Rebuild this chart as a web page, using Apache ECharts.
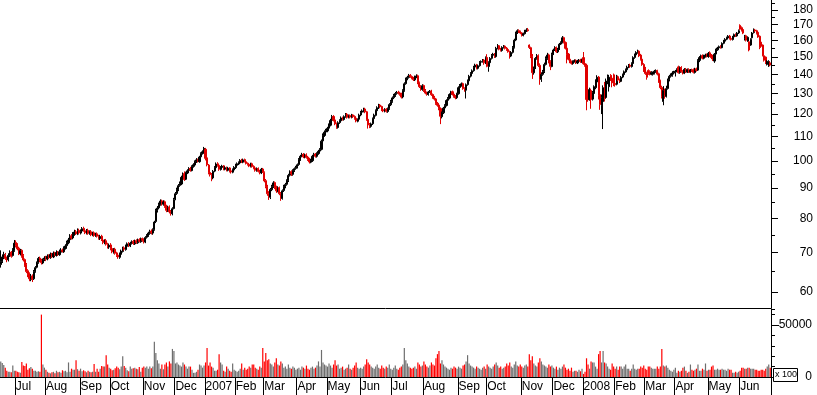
<!DOCTYPE html>
<html><head><meta charset="utf-8">
<script src="https://cdn.jsdelivr.net/npm/echarts@6/dist/echarts.min.js"></script>
<style>html,body{margin:0;padding:0;background:#fff;overflow:hidden}#c{width:817px;height:395px}</style>
</head><body><div id="c"></div>
<script>
// Month labels of the time axis (first entry = partial June 2006, unlabeled)
const monthLabels = ['', 'Jul','Aug','Sep','Oct','Nov','Dec','2007','Feb','Mar','Apr','May','Jun','Jul','Aug','Sep','Oct','Nov','Dec','2008','Feb','Mar','Apr','May','Jun'];
// Trading days in each month shown
const monthDays = [10,20,23,20,22,21,20, 20,19,22,20,22,21,21,23,19,23,21,20, 21,20,20,22,21,21];
// Axis tick values
const priceTicks = [60,70,80,90,100,110,120,130,140,150,160,170,180];
const priceMinorTicks = [65,75,85,95,105,115,125,135,145,155,165,175,185];
const volumeLabelTicks = [0, 50000];

const open = [
66.8,67.6,68.6,69.4,68.5,68.1,69.1,70.1,69.2,70.6,
72.8,72.1,71.2,69.6,70.6,69.2,68.1,66.8,65.2,64.4,63.0,63.9,63.2,65.1,66.1,67.3,68.5,67.9,67.2,68.1,
68.6,68.3,69.1,68.7,69.6,68.8,69.9,69.2,70.1,69.4,70.1,70.7,70.2,71.1,71.9,72.7,73.6,74.7,74.1,75.1,75.9,75.2,76.3,
75.5,76.1,76.9,76.2,75.5,76.3,75.3,75.9,74.9,75.6,74.7,75.3,74.5,73.9,74.6,73.5,72.7,73.3,72.2,71.5,
72.1,71.1,70.1,70.9,69.9,69.3,68.7,69.5,70.3,71.3,70.8,71.7,72.5,71.8,72.5,73.1,72.4,73.3,72.7,73.6,73.0,73.9,
73.5,72.9,74.3,74.7,75.4,76.1,75.5,76.6,79.0,82.4,83.3,84.4,85.6,84.5,85.3,83.9,82.4,83.6,82.1,81.4,83.1,
86.2,88.1,89.4,90.9,91.4,93.9,95.2,93.1,95.4,96.3,97.1,96.3,97.9,98.4,99.7,100.5,99.7,101.6,102.9,103.5,
104.6,101.2,98.4,95.6,94.9,93.6,96.1,97.4,98.9,98.3,96.7,97.5,98.1,96.8,97.5,96.4,97.3,96.2,95.7,96.5,
97.4,98.3,98.8,99.2,100.3,99.5,100.5,99.7,99.1,98.7,97.9,98.9,97.9,97.3,96.3,97.1,96.1,95.4,96.9,
95.6,92.6,90.6,88.1,86.8,89.4,90.6,91.9,90.3,88.9,90.1,88.1,86.4,89.1,90.4,91.3,92.6,94.6,95.9,94.9,96.3,97.1,
97.7,98.6,100.4,101.9,102.6,101.5,102.4,101.5,100.7,99.5,100.1,101.9,102.7,101.8,102.9,103.9,104.6,108.1,110.4,111.9,
112.4,113.6,114.9,117.1,118.9,117.3,115.6,113.9,116.1,116.9,118.3,117.5,118.9,119.9,118.4,119.3,118.5,119.6,118.9,118.1,116.7,117.6,
119.6,120.9,121.4,122.4,121.1,117.6,115.2,114.4,115.6,117.9,119.4,121.6,122.9,124.3,123.6,122.1,121.4,122.3,121.2,122.6,124.4,
126.1,127.9,128.9,130.1,130.6,130.3,129.7,128.3,131.6,135.1,137.6,138.4,139.6,138.9,138.1,137.1,138.7,139.3,135.6,133.6,132.1,
134.1,131.6,130.3,129.5,130.9,131.3,129.5,128.1,127.3,125.1,124.3,122.6,118.8,120.6,122.9,124.1,126.6,127.7,129.6,130.9,129.7,128.6,127.9,
129.9,133.1,134.1,135.1,132.6,131.7,134.6,136.6,139.1,140.6,142.1,144.1,145.3,143.4,144.9,146.9,147.3,148.1,146.4,
149.6,144.4,146.6,149.1,150.9,151.6,150.1,155.1,156.6,154.6,153.7,155.6,156.3,155.1,154.3,153.1,150.4,152.6,155.6,160.1,164.6,166.1,165.3,
164.6,163.1,164.1,165.9,166.6,157.0,155.4,150.1,140.9,143.6,149.1,150.6,145.1,137.4,140.1,141.6,145.6,149.1,151.1,147.1,144.4,
151.6,154.1,155.6,152.9,154.6,157.6,158.6,161.6,158.6,155.1,151.6,148.6,147.1,146.1,147.3,147.9,146.4,147.6,148.1,147.1,
149.5,146.1,145.1,130.5,127.0,131.5,127.2,130.0,133.0,136.0,138.6,129.5,124.0,126.0,133.5,128.0,136.0,133.5,139.5,138.0,139.8,
135.2,134.8,138.8,137.1,136.3,138.6,139.9,141.4,142.6,144.1,145.1,144.4,146.1,149.6,151.1,152.6,153.3,151.0,148.6,145.6,
143.5,141.0,142.2,141.6,140.2,140.1,140.6,141.6,142.2,140.4,136.6,133.1,126.0,131.8,128.5,132.6,137.2,139.1,139.4,140.9,
140.9,141.9,144.2,141.1,143.9,141.7,140.7,142.9,141.3,142.7,141.2,142.5,142.6,141.1,143.1,142.4,147.9,149.4,150.6,149.1,150.3,151.1,
150.1,152.3,151.0,150.0,147.5,151.6,154.1,155.3,156.1,155.4,158.1,159.4,160.6,161.4,162.6,161.1,160.4,162.1,163.6,162.7,164.6,
169.5,168.0,166.8,161.0,162.8,159.5,159.0,157.0,161.5,164.8,166.5,166.0,165.0,162.5,158.8,157.0,150.6,149.8,145.6,144.8,146.5
];
const close = [
67.5,68.8,69.5,68.4,68.0,69.2,70.0,69.0,70.8,72.6,
72.0,71.0,69.8,70.5,69.0,68.0,66.5,65.0,64.2,63.2,63.8,63.0,65.0,66.0,67.2,68.4,67.8,67.3,68.0,68.5,
68.2,69.0,68.6,69.5,68.9,69.8,69.3,70.0,69.5,70.2,70.6,70.3,71.2,71.8,72.8,73.5,74.6,74.0,75.2,75.8,75.3,76.2,75.6,
76.0,76.8,76.3,75.6,76.2,75.4,75.9,75.0,75.5,74.8,75.2,74.6,74.0,74.5,73.6,72.8,73.2,72.3,71.6,72.0,
71.0,70.2,70.8,69.8,69.2,68.8,69.6,70.4,71.2,70.9,71.8,72.4,71.9,72.6,73.0,72.5,73.2,72.8,73.5,73.1,73.8,73.4,
73.0,74.2,74.8,75.5,76.0,75.6,76.5,78.8,82.5,83.2,84.5,85.5,84.6,85.2,83.8,82.5,83.5,82.0,81.5,83.0,86.0,
88.0,89.5,90.8,91.5,93.8,94.8,93.0,95.5,96.2,97.0,96.4,97.8,98.5,99.6,100.4,99.8,101.5,102.8,103.6,105.0,
101.0,98.5,95.5,94.8,93.5,96.0,97.5,98.8,98.2,96.8,97.6,98.0,96.9,97.4,96.5,97.2,96.1,95.8,96.6,97.5,
98.4,98.9,99.3,100.2,99.6,100.4,99.8,99.0,98.6,98.0,98.8,97.8,97.2,96.4,97.0,96.0,95.5,96.8,95.8,
92.5,90.5,88.0,87.0,89.5,90.5,91.8,90.2,89.0,90.0,88.0,86.5,89.0,90.5,91.2,92.5,94.5,95.8,95.0,96.2,97.0,97.6,
98.5,100.5,101.8,102.5,101.6,102.3,101.4,100.6,99.6,100.2,101.8,102.6,101.9,102.8,103.8,104.5,108.0,110.5,111.8,112.5,
113.5,115.0,117.0,118.8,117.2,115.5,114.0,116.0,117.0,118.2,117.6,118.8,119.8,118.5,119.2,118.6,119.5,118.8,118.0,116.8,117.5,119.5,
120.8,121.5,122.3,121.0,117.5,115.0,114.5,115.5,117.8,119.5,121.5,123.0,124.2,123.5,122.0,121.5,122.2,121.3,122.5,124.5,126.0,
127.8,129.0,130.0,130.5,130.2,129.6,128.2,131.5,135.0,137.5,138.5,139.5,138.8,138.0,137.2,138.6,139.2,135.5,133.5,132.2,134.0,
131.5,130.2,129.6,130.8,131.2,129.4,128.0,127.2,125.0,124.2,122.5,119.0,120.5,122.8,124.0,126.5,127.6,129.5,130.8,129.6,128.5,127.8,129.8,
133.0,134.2,135.0,132.5,131.8,134.5,136.5,139.0,140.5,142.0,144.0,145.2,143.5,144.8,146.8,147.2,148.0,146.5,149.5,
144.5,146.5,149.0,150.8,151.5,150.0,155.0,156.5,154.5,153.8,155.5,156.2,155.0,154.2,153.0,150.5,152.5,155.5,160.0,164.5,166.0,165.2,164.5,
163.0,164.0,165.8,166.5,166.0,155.5,150.0,141.0,143.5,149.0,150.5,145.0,137.5,140.0,141.5,145.5,149.0,151.0,147.0,144.5,151.5,
154.0,155.5,153.0,154.5,157.5,158.5,161.5,158.5,155.0,151.5,148.5,147.0,146.2,147.2,147.8,146.5,147.5,148.0,147.2,148.2,
146.0,145.0,127.0,126.8,132.0,127.0,130.5,133.5,136.5,138.5,129.0,124.5,128.0,133.0,127.5,136.5,139.0,138.5,137.0,135.5,135.0,
134.5,139.0,137.0,136.2,138.5,139.8,141.5,142.5,144.0,145.0,144.5,146.0,149.5,151.0,152.5,153.2,150.5,148.5,145.5,143.0,
140.5,138.5,140.5,140.0,141.0,140.8,141.8,142.0,140.2,136.5,133.0,128.5,131.5,129.0,132.5,137.0,139.0,139.5,140.8,141.0,
141.8,142.6,141.0,143.8,141.6,140.8,142.8,141.4,142.6,141.3,142.4,142.0,141.2,143.0,142.2,147.8,149.5,150.5,149.2,150.4,151.0,150.2,
152.0,150.5,149.5,148.5,151.5,154.0,155.2,156.0,155.5,158.0,159.5,160.5,161.5,162.5,161.0,160.5,162.0,163.5,162.8,164.5,166.0,
167.0,166.2,164.5,162.5,160.0,161.8,154.0,160.5,164.5,166.8,165.8,164.2,162.0,155.5,156.2,151.0,148.0,146.5,147.4,147.2,145.2
];
const high = [
70.6,69.5,70.2,69.9,68.9,69.8,70.6,70.4,71.2,73.5,
73.4,72.6,71.6,71.0,70.9,69.6,68.4,67.2,65.6,64.8,64.4,64.3,65.4,66.4,67.6,68.8,68.9,68.3,68.4,69.0,
69.1,69.5,69.5,70.0,69.9,70.3,70.2,70.6,70.4,70.8,71.2,71.1,71.7,72.3,73.3,74.1,75.2,75.2,75.8,76.5,76.4,76.9,76.8,
76.6,77.3,77.4,76.7,76.7,76.8,76.3,76.4,75.9,76.0,75.6,75.7,75.0,75.0,75.0,73.9,73.7,73.8,72.7,72.5,
72.6,71.5,71.2,71.3,70.2,69.7,70.0,70.8,71.6,71.7,72.2,72.8,72.9,73.0,73.4,73.5,73.6,73.7,73.9,74.0,74.2,74.2,
74.0,74.6,75.2,75.9,76.5,76.6,76.9,79.2,83.0,83.9,85.0,86.1,86.0,85.8,85.7,84.3,84.0,84.1,82.6,83.5,86.6,
88.6,90.1,91.4,92.3,94.4,95.6,96.0,95.9,96.8,97.6,97.7,98.3,99.1,100.2,101.1,100.9,102.0,103.4,104.2,105.6,
105.2,101.8,98.8,96.2,95.4,96.5,98.0,99.4,99.5,98.7,98.0,98.5,98.4,97.9,97.8,97.7,97.6,96.6,97.1,98.0,
98.9,99.4,99.8,100.7,100.8,100.9,100.9,100.1,99.4,99.0,99.3,99.3,98.3,97.6,97.5,97.5,96.6,97.3,97.3,
96.0,93.2,91.1,88.9,90.0,91.1,92.4,92.3,90.8,90.6,90.5,88.6,89.5,91.1,91.8,93.1,95.1,96.4,96.4,96.8,97.5,98.1,
99.0,101.1,102.4,103.2,103.1,102.9,103.0,102.0,101.2,100.8,102.4,103.2,103.1,103.4,104.4,105.1,108.7,111.3,112.6,113.3,
114.2,115.7,117.8,119.6,119.5,117.8,116.1,116.7,117.6,118.9,118.8,119.4,120.5,120.5,119.8,119.8,120.1,119.9,119.4,118.6,118.0,120.2,
121.5,122.2,123.0,123.0,121.5,118.0,115.9,116.1,118.4,120.2,122.2,123.7,124.9,124.8,124.0,122.6,122.8,122.8,123.1,125.2,126.8,
128.5,129.8,130.8,131.3,131.4,130.9,130.4,132.2,135.8,138.3,139.3,140.3,140.2,139.5,138.7,139.4,140.1,139.9,136.2,134.3,134.8,
134.6,132.3,131.0,131.3,131.8,131.9,130.0,128.8,127.8,125.8,125.0,123.2,121.2,123.4,124.7,127.1,128.2,130.1,131.4,131.5,130.3,129.2,130.4,
133.7,134.9,135.7,135.6,133.2,135.2,137.3,139.8,141.3,142.8,144.8,146.0,145.9,145.5,147.5,147.9,148.7,148.7,150.2,
151.5,147.4,149.8,151.6,152.3,152.2,155.9,157.6,157.0,155.3,156.3,157.0,156.8,155.8,155.0,153.6,153.3,156.4,160.9,165.4,166.9,166.9,166.1,
165.1,164.8,166.6,167.6,167.8,157.4,156.0,151.6,144.4,149.8,151.6,151.4,146.2,141.2,142.5,146.6,150.2,152.3,151.8,148.0,152.4,
154.8,156.3,156.1,155.3,158.3,159.3,162.6,162.2,159.2,155.7,152.2,149.3,147.8,147.9,148.5,148.5,148.2,148.7,148.8,148.9,
152.8,146.8,146.0,135.0,133.0,132.5,131.3,134.2,137.4,139.6,139.2,130.2,129.5,134.2,136.0,137.8,140.0,139.8,140.2,139.5,140.5,
136.8,139.8,139.4,137.8,139.2,140.5,142.2,143.3,144.9,145.8,146.0,146.8,150.3,151.9,153.3,154.2,153.8,151.7,149.2,146.3,
144.2,141.5,142.8,142.3,141.8,141.6,142.5,142.8,142.6,141.0,137.2,134.0,133.8,132.5,134.0,137.8,139.8,140.6,141.8,142.0,
142.5,143.4,144.9,144.5,144.6,142.4,143.5,143.6,143.3,143.4,143.0,143.2,143.3,143.7,143.8,148.6,150.4,151.3,151.4,151.2,151.8,151.9,
152.8,153.2,151.6,150.8,152.2,154.8,155.9,156.7,156.9,158.7,160.2,161.3,162.2,163.2,163.3,161.8,162.7,164.2,164.3,165.2,166.8,
170.2,168.8,167.3,163.3,163.4,162.4,159.4,161.2,165.2,167.5,167.2,166.6,165.4,163.0,159.3,157.4,151.0,150.2,148.0,148.0,147.4
];
const low = [
66.0,67.2,68.2,68.0,67.4,67.6,68.8,68.6,68.9,70.2,
71.4,70.6,69.3,69.2,68.6,67.6,66.2,64.6,63.6,62.6,62.6,62.4,62.9,64.7,65.8,67.0,67.4,66.8,66.9,67.7,
67.7,67.9,68.2,68.3,68.5,68.5,69.0,68.9,69.1,69.1,69.8,70.0,69.9,70.8,71.5,72.3,73.2,73.6,73.7,74.7,75.0,74.9,75.2,
75.1,75.7,75.9,75.2,75.1,75.0,75.0,74.6,74.6,74.4,74.4,74.2,73.6,73.5,73.2,72.3,72.3,71.9,71.1,71.0,
70.6,69.8,69.7,69.4,68.8,68.3,68.3,69.2,70.0,70.5,70.5,71.3,71.5,71.5,72.2,72.1,72.1,72.4,72.4,72.8,72.7,73.0,
72.5,72.6,73.9,74.4,75.0,75.1,75.0,76.2,78.5,81.8,82.8,84.0,84.0,84.0,83.3,81.9,82.0,81.5,80.8,80.9,82.8,
85.8,87.6,88.9,90.4,91.0,93.3,92.5,92.8,95.0,95.8,95.9,96.0,97.4,98.0,99.2,99.4,99.3,101.2,102.5,103.1,
100.2,97.9,94.9,94.1,92.4,93.1,95.7,97.0,97.8,96.2,96.3,97.1,96.4,96.4,96.0,96.0,95.6,95.2,95.3,96.1,
96.9,97.9,98.4,98.8,99.2,99.1,99.4,98.6,98.2,97.6,97.5,97.4,96.8,95.9,95.9,95.6,94.9,95.0,95.4,
92.0,89.9,87.3,85.9,86.2,88.9,90.0,89.6,88.3,88.5,87.5,85.6,86.0,88.6,89.9,90.8,92.1,94.1,94.3,94.4,95.8,96.6,
97.1,98.1,100.0,101.4,101.1,101.0,100.9,100.0,99.0,99.1,99.6,101.4,101.3,101.3,102.4,103.4,104.2,107.6,109.8,111.3,
111.8,113.0,114.4,116.6,116.6,114.9,113.3,113.4,115.5,116.4,117.0,117.0,118.3,117.9,118.0,118.0,118.0,118.2,117.4,116.2,116.2,117.1,
119.0,120.3,120.8,120.4,116.9,113.4,113.6,113.8,115.0,117.3,118.9,121.0,122.4,122.9,121.4,120.9,120.8,120.7,120.6,122.0,123.8,
125.4,127.2,128.3,129.4,129.5,128.9,127.5,127.6,130.9,134.5,136.9,137.8,138.2,137.4,136.5,136.5,138.0,134.8,132.8,131.4,131.4,
130.8,129.6,128.9,128.9,130.3,128.8,127.4,126.5,124.4,123.5,121.8,115.4,118.0,120.0,122.3,123.6,126.0,127.1,129.0,129.0,127.9,127.1,127.3,
129.4,132.5,133.5,131.9,130.9,127.5,134.0,136.0,138.4,139.9,141.5,143.4,142.8,142.8,144.3,146.2,146.6,145.4,145.8,
144.0,141.5,145.9,148.4,150.2,149.3,149.5,154.4,153.8,153.1,153.0,154.9,154.3,153.5,152.4,148.9,149.8,151.9,154.9,159.4,163.9,164.5,163.8,
162.3,162.4,163.5,165.2,165.4,154.6,149.2,137.6,139.9,143.0,148.3,144.1,134.5,136.0,139.3,140.8,145.0,148.2,146.2,142.4,144.0,
151.0,153.4,152.3,152.2,154.0,157.0,158.0,158.0,154.3,146.2,147.9,146.3,145.5,145.4,146.6,145.8,145.8,147.0,146.5,146.5,
145.4,144.3,121.8,125.9,126.4,122.5,126.5,129.4,132.2,135.0,127.0,122.0,120.0,113.2,126.0,127.5,134.8,131.0,136.5,133.2,133.8,
133.5,134.2,136.4,135.4,135.9,138.0,139.2,140.9,142.0,143.5,143.7,143.8,145.6,148.8,150.3,151.8,149.8,147.8,144.8,141.4,
139.8,137.2,139.8,139.5,139.6,139.4,140.0,140.9,139.5,135.5,132.2,127.5,124.2,127.4,128.0,132.0,136.3,138.3,138.8,140.0,
138.9,141.2,140.5,140.4,141.0,140.0,140.2,140.8,140.8,140.8,140.7,141.4,140.6,140.5,141.6,142.0,146.9,148.6,148.5,148.5,149.5,149.6,
149.4,150.0,148.6,147.6,146.5,151.0,153.5,154.7,154.8,155.0,157.5,158.8,160.0,160.8,160.4,159.8,159.8,161.4,162.0,162.2,163.9,
166.4,165.5,163.8,159.8,159.2,159.0,153.2,156.5,161.0,164.2,165.0,163.6,161.5,154.5,155.6,150.2,147.2,145.8,145.0,144.2,144.6
];
// Volume (axis units, shown as x 100)
const volume = [
15000,13500,11500,9000,6000,5000,5000,4500,11000,6000,
6000,5000,4500,4000,14500,11000,10500,13000,7000,8500,9500,8000,6000,6000,5000,5500,5000,60000,12000,9000,
7000,5000,4000,3500,4500,5000,3500,6000,4500,5000,4000,6500,5500,6000,4500,14000,5000,8000,7000,7000,16000,7500,6000,
8000,5500,6500,5500,4500,6000,5000,4500,5000,12500,5000,8000,5000,8000,10500,10000,10000,21000,12000,9000,
8000,6500,7000,8500,10000,9000,7500,10000,20000,10500,9000,6500,5500,10000,8000,8500,9000,8000,7500,9500,5000,9000,
10000,9000,10000,8000,10000,8500,10000,34000,23000,16000,13000,8000,12000,7500,12000,14000,10000,15000,13000,27000,25000,
13000,14000,12000,11000,10000,14000,12000,10000,8000,10000,10000,7000,4000,4000,5000,7000,12000,11000,9000,11000,
14000,28000,11000,14000,10000,9000,6000,6000,7000,22000,14000,12000,6000,5000,10000,8000,6000,5000,13000,7000,
6000,5000,6000,8000,13000,7000,9000,7000,8000,10000,9000,12000,12000,9000,8000,7000,10000,9000,28000,
15000,23000,16000,17000,13000,12000,10000,14000,18000,12000,11000,15000,13000,9000,10000,8000,12000,9000,8000,10000,9000,7000,
8000,9000,7000,10000,9000,8000,11000,8000,7000,9000,10000,8000,9000,11000,15000,10000,26000,14000,12000,11000,
10000,13000,11000,9000,12000,16000,11000,12000,8000,9000,10000,7000,8000,9000,12000,8000,7000,9000,11000,14000,9000,8000,
9000,8000,10000,12000,17000,14000,12000,10000,9000,8000,10000,12000,9000,8000,11000,9000,8000,10000,9000,12000,8000,
7000,9000,11000,8000,7000,9000,10000,12000,28000,16000,13000,10000,9000,8000,9000,10000,8000,14000,12000,10000,11000,
15000,12000,10000,9000,11000,14000,12000,11000,18000,22000,25000,13000,16000,12000,10000,9000,8000,7000,9000,8000,10000,9000,8000,
10000,9000,8000,11000,12000,15000,21000,13000,11000,10000,9000,8000,10000,9000,8000,7000,9000,10000,8000,
12000,10000,9000,8000,10000,12000,14000,11000,9000,10000,8000,9000,10000,13000,11000,14000,10000,9000,12000,15000,11000,10000,12000,
10000,9000,11000,12000,10000,22000,16000,20000,13000,11000,10000,14000,18000,15000,12000,11000,10000,9000,12000,10000,11000,
9000,8000,10000,7000,9000,8000,10000,12000,9000,7000,8000,6000,9000,5000,6000,6000,5000,7000,5500,8000,
3000,5000,18000,12000,8000,15000,14000,14000,10000,8000,22000,25000,14000,25000,14000,13000,10000,8000,7000,13000,10000,
8000,10000,7000,10000,10000,8000,10000,12000,8000,8000,6000,8000,12000,8000,7000,8000,8000,10000,9000,11000,
8000,7000,10000,10000,9000,8000,8000,8000,10000,8000,10000,27000,11000,10000,11000,9000,7000,6000,5000,7000,
9000,4000,6000,5000,6000,9000,10000,6000,4000,5000,12000,7000,6000,7000,8000,12000,6000,6000,8000,7000,13000,6000,
7000,7000,10000,11000,7000,7000,8000,7000,7000,8000,7000,7000,6000,8000,7000,7000,4000,4000,5000,4000,5000,
6000,9000,9000,8000,8000,9000,9000,8000,8000,8000,7000,7000,6000,6000,7000,7000,6000,8000,10000,12000,9000
];

// Build categories: one per trading day, keyed by month index
const categories = [];
monthDays.forEach((n, m) => { for (let d = 0; d < n; d++) categories.push(m + '-' + d); });
const candleData = close.map((c, i) => [open[i], c, low[i], high[i]]);
const volData = volume.map((v, i) => ({ value: v, itemStyle: { color: close[i] < open[i] ? '#ff0000' : '#6e6e6e' } }));
const isMonthStart = (idx, val) => typeof val === 'string' && val.endsWith('-0') && val !== '0-0';

const FONT = 'Liberation Sans, Arial, sans-serif';
const chart = echarts.init(document.getElementById('c'), null, { renderer: 'canvas' });
chart.setOption({
  animation: false,
  backgroundColor: '#fff',
  grid: [
    { left: 0, top: 0, width: 771, height: 308 },
    { left: 0, top: 309, width: 771, height: 68 }
  ],
  xAxis: [
    { type: 'category', gridIndex: 0, data: categories, boundaryGap: true,
      axisLine: { show: true, onZero: false, lineStyle: { color: '#000', width: 1 } },
      axisTick: { show: false }, axisLabel: { show: false }, splitLine: { show: false } },
    { type: 'category', gridIndex: 1, data: categories, boundaryGap: true,
      axisLine: { show: true, onZero: false, lineStyle: { color: '#000', width: 1 } },
      axisTick: { show: true, interval: isMonthStart, length: 18, lineStyle: { color: '#000' } },
      axisLabel: { show: true, interval: isMonthStart, align: 'left', margin: 4, color: '#000',
        fontSize: 12, fontFamily: FONT,
        formatter: v => monthLabels[+String(v).split('-')[0]] },
      splitLine: { show: false } }
  ],
  yAxis: [
    { type: 'log', gridIndex: 0, position: 'right', min: 56.4, max: 187.1, logBase: 10,
      axisLine: { show: true, lineStyle: { color: '#000' } },
      axisTick: { show: true, length: 7, customValues: priceTicks, lineStyle: { color: '#000' } },
      axisLabel: { show: true, customValues: priceTicks, align: 'right', margin: 42, color: '#000',
        fontSize: 12, fontFamily: FONT, formatter: v => String(Math.round(v)) },
      splitLine: { show: false } },
    { type: 'log', gridIndex: 0, position: 'right', min: 56.4, max: 187.1, logBase: 10,
      axisLine: { show: false },
      axisTick: { show: true, length: 4, customValues: priceMinorTicks, lineStyle: { color: '#000' } },
      axisLabel: { show: false }, splitLine: { show: false } },
    { type: 'value', gridIndex: 1, position: 'right', min: 0, max: 65400, interval: 10000,
      axisLine: { show: true, lineStyle: { color: '#000' } },
      axisTick: { show: true, length: 4, lineStyle: { color: '#000' } },
      axisLabel: { show: true, customValues: volumeLabelTicks, align: 'right', margin: 41, color: '#000',
        fontSize: 12, fontFamily: FONT, formatter: v => String(Math.round(v)) },
      splitLine: { show: false } },
    { type: 'value', gridIndex: 1, position: 'right', min: 0, max: 65400,
      axisLine: { show: false },
      axisTick: { show: true, length: 8, customValues: volumeLabelTicks, lineStyle: { color: '#000' } },
      axisLabel: { show: false }, splitLine: { show: false } }
  ],
  series: [
    { type: 'candlestick', xAxisIndex: 0, yAxisIndex: 0, data: candleData, barWidth: 1.6,
      itemStyle: { color: '#000', color0: '#e00000', borderColor: '#000', borderColor0: '#e00000', borderWidth: 1 } },
    { type: 'bar', xAxisIndex: 1, yAxisIndex: 2, data: volData, barWidth: 1.2 }
  ],
  graphic: [
    { type: 'rect', left: 773, top: 368, shape: { width: 24, height: 13 }, z: 100,
      style: { fill: '#fff', stroke: '#000', lineWidth: 1 } },
    { type: 'text', left: 775, top: 370, z: 101,
      style: { text: 'x 100', fontSize: 9, fontFamily: FONT, fill: '#000' } }
  ]
});
</script></body></html>
